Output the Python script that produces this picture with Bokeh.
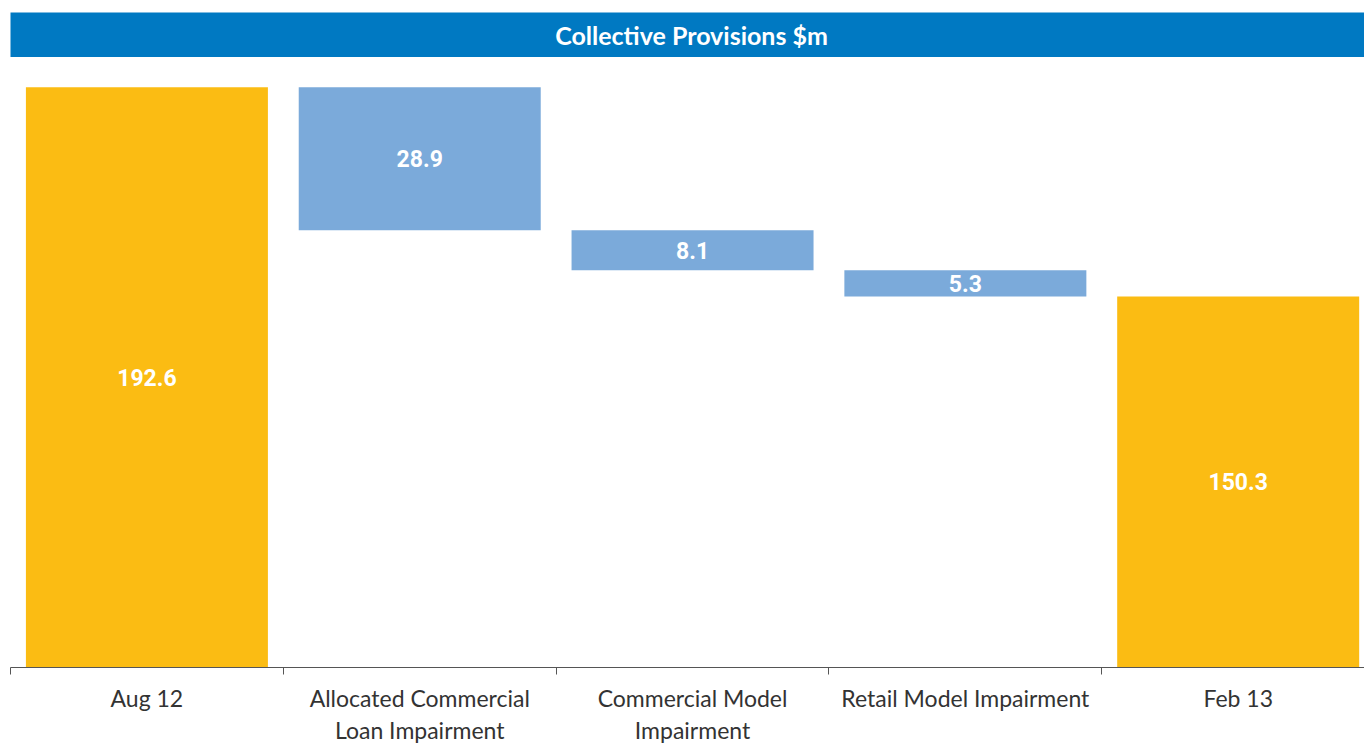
from bokeh.plotting import figure
from bokeh.models import Range1d, FixedTicker, Label, ColumnDataSource
from bokeh.layouts import column
from bokeh.core.properties import value
from bokeh.embed import file_html
from bokeh.resources import INLINE

# ---- data ----
title_text = "Collective Provisions $m"
categories = ["Aug 12", "Allocated Commercial\nLoan Impairment", "Commercial Model\nImpairment",
              "Retail Model Impairment", "Feb 13"]
values = [192.6, -28.9, -8.1, -5.3, 150.3]
kinds = ["total", "delta", "delta", "delta", "total"]

# ---- style ----
BAND = "#0079C2"
YELLOW = "#FBBC13"
LIGHTBLUE = "#7BAADA"
W = 1364
Y_START, Y_END = 75.3, 198.6
X_END = 4.963
BAR_W = 0.887

# ---- waterfall geometry from data ----
xs, tops, bottoms, colors, labels, label_y = [], [], [], [], [], []
level = 0.0
for i, (v, k) in enumerate(zip(values, kinds)):
    if k == "total":
        top, bot = v, 0.0
        level = v
        col = YELLOW
    else:
        top = level
        bot = level + v
        level = bot
        col = LIGHTBLUE
    xs.append(i + 0.5)
    tops.append(top)
    bottoms.append(bot)
    colors.append(col)
    labels.append(f"{abs(v):.1f}")
    label_y.append((top + max(bot, Y_START)) / 2)

src = ColumnDataSource(dict(x=xs, top=tops, bottom=bottoms, color=colors,
                            label=labels, ly=label_y))

# ---- header band ----
head = figure(width=W, height=57, x_range=Range1d(0, 1), y_range=Range1d(0, 1),
              output_backend="svg", toolbar_location=None,
              x_axis_location=None, y_axis_location=None,
              min_border_top=12, min_border_left=10, min_border_right=0, min_border_bottom=0)
head.background_fill_color = BAND
head.border_fill_color = "white"
head.outline_line_color = None
head.xgrid.visible = False
head.ygrid.visible = False
head.add_layout(Label(x=0.503, y=0.5, text=title_text, text_align="center",
                      text_baseline="middle", text_color="white",
                      text_font="Lato", text_font_style="bold", text_font_size="25px"))

# ---- main chart ----
p = figure(width=W, height=689, x_range=Range1d(0, X_END),
           y_range=Range1d(Y_START, Y_END),
           output_backend="svg", toolbar_location=None, y_axis_location=None,
           min_border_top=0, min_border_left=10, min_border_right=0, min_border_bottom=70)
p.outline_line_color = None
p.xgrid.visible = False
p.ygrid.visible = False
p.background_fill_color = "white"

p.vbar(x="x", top="top", bottom="bottom", width=BAR_W, fill_color="color",
       line_color=None, source=src)
p.text(x="x", y="ly", text="label", source=src, text_align="center",
       text_baseline="middle", text_color="white",
       text_font=value("Roboto"), text_font_style="bold", text_font_size="23px")

ax = p.xaxis[0]
centers = [i + 0.5 for i in range(len(categories))]
ax.ticker = FixedTicker(ticks=centers, minor_ticks=list(range(len(categories) + 1)))
ax.major_label_overrides = {c: lab for c, lab in zip(centers, categories)}
ax.major_tick_in = 0
ax.major_tick_out = 0
ax.minor_tick_in = 0
ax.minor_tick_out = 7
ax.minor_tick_line_color = "#555555"
ax.axis_line_color = "#555555"
ax.axis_line_width = 1.2
ax.major_label_standoff = 9
ax.major_label_text_font = "Lato"
ax.major_label_text_font_size = "23px"
ax.major_label_text_color = "#333333"
ax.major_label_text_line_height = 1.15

layout = column(head, p, spacing=0)
open("out.html", "w").write(file_html(layout, INLINE))
